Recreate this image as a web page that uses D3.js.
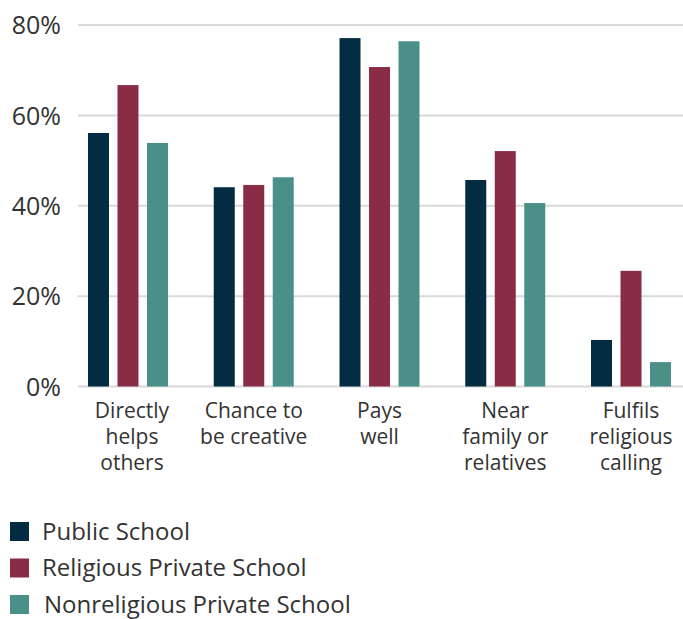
<!DOCTYPE html>
<html>
<head>
<meta charset="utf-8">
<script src="https://cdn.jsdelivr.net/npm/d3@7"></script>
<style>
  body { margin: 0; background: #fff; }
  svg { display: block; font-family: "Open Sans", sans-serif; }
</style>
</head>
<body>
<svg id="chart" width="683" height="619"></svg>
<script>
// Reasons for choosing a job, by school type (share of respondents)
const categories = [
  ["Directly", "helps", "others"],
  ["Chance to", "be creative"],
  ["Pays", "well"],
  ["Near", "family or", "relatives"],
  ["Fulfils", "religious", "calling"]
];
const seriesNames = ["Public School", "Religious Private School", "Nonreligious Private School"];
const publicSchool = [56.1, 44.1, 77.1, 45.7, 10.3];
const religiousPrivate = [66.7, 44.6, 70.7, 52.1, 25.6];
const nonreligiousPrivate = [53.9, 46.3, 76.4, 40.6, 5.4];
const yTicks = [0, 20, 40, 60, 80];
const colors = ["#032b41", "#892d47", "#4a8f88"];

const series = [publicSchool, religiousPrivate, nonreligiousPrivate];
const svg = d3.select("#chart");

const plot = { left: 78, right: 683, top: 25, bottom: 386.5 };

const y = d3.scaleLinear().domain([0, 80]).range([plot.bottom, plot.top]);
const x0 = d3.scaleBand()
  .domain(d3.range(categories.length))
  .range([88, 671])
  .paddingInner(0.364)
  .paddingOuter(0);
const x1 = d3.scaleBand()
  .domain(d3.range(series.length))
  .range([0, x0.bandwidth()])
  .paddingInner(0.288);

// Grid lines
svg.append("g")
  .selectAll("line")
  .data(yTicks)
  .join("line")
  .attr("x1", plot.left)
  .attr("x2", plot.right)
  .attr("y1", d => y(d))
  .attr("y2", d => y(d))
  .attr("stroke", "#d9d9d9")
  .attr("stroke-width", 2);

// Y axis labels
const yAxis = d3.axisLeft(y).tickValues(yTicks).tickFormat(d => d + "%").tickSize(0).tickPadding(0);
const yg = svg.append("g").attr("transform", `translate(61,0)`).call(yAxis);
yg.select(".domain").remove();
yg.selectAll("text")
  .attr("font-size", 25)
  .attr("font-family", "'Open Sans', sans-serif")
  .attr("fill", "#333")
  .attr("dy", "0.35em");

// Bars
const groups = svg.append("g")
  .selectAll("g")
  .data(categories.map((c, i) => i))
  .join("g")
  .attr("transform", i => `translate(${x0(i)},0)`);

groups.selectAll("rect")
  .data(i => series.map((s, k) => ({ k, v: s[i] })))
  .join("rect")
  .attr("x", d => x1(d.k))
  .attr("width", x1.bandwidth())
  .attr("y", d => y(d.v))
  .attr("height", d => y(0) - y(d.v))
  .attr("fill", d => colors[d.k]);

// Category labels
const labelX = i => x0(i) + x0.bandwidth() / 2 + (i === 0 ? 4 : 0);
const lab = svg.append("g")
  .selectAll("text")
  .data(categories.map((c, i) => ({ lines: c, i })))
  .join("text")
  .attr("text-anchor", "middle")
  .attr("font-size", 21)
  .attr("fill", "#333")
  .attr("x", d => labelX(d.i))
  .attr("y", 418);
lab.selectAll("tspan")
  .data(d => d.lines.map(l => ({ l, x: labelX(d.i) })))
  .join("tspan")
  .attr("x", d => d.x)
  .attr("dy", (d, j) => j === 0 ? 0 : 26)
  .text(d => d.l);

// Legend
const legend = svg.append("g")
  .selectAll("g")
  .data(seriesNames)
  .join("g")
  .attr("transform", (d, i) => `translate(10,${522 + i * 36.5})`);
legend.append("rect")
  .attr("width", 19)
  .attr("height", 19)
  .attr("fill", (d, i) => colors[i]);
legend.append("text")
  .attr("x", (d, i) => i === 2 ? 34 : 32)
  .attr("y", 17.5)
  .attr("font-size", 24)
  .attr("fill", "#333")
  .text(d => d);
</script>
</body>
</html>
